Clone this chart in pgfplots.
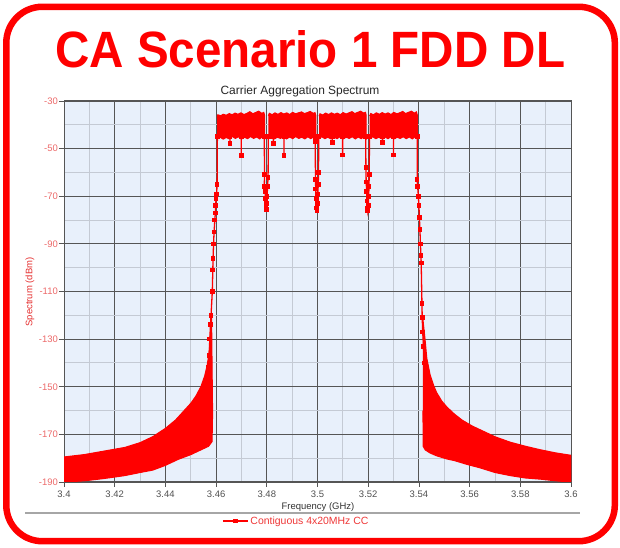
\documentclass[border=0pt]{standalone}
\usepackage{fontspec}
\setmainfont{Liberation Sans}
\usepackage{graphicx}
\usepackage{pgfplots}
\pgfplotsset{compat=1.18}
\definecolor{bgblue}{RGB}{232,240,251}
\definecolor{majgrid}{RGB}{85,85,85}
\definecolor{mingrid}{RGB}{196,202,212}
\definecolor{ticklab}{RGB}{236,105,105}
\definecolor{ylab}{RGB}{228,45,45}
\definecolor{xlab}{RGB}{80,80,80}
\definecolor{legred}{RGB}{238,55,55}
\begin{document}
\begin{tikzpicture}[x=1bp,y=1bp]
\path (0,0) rectangle (620,548);
\draw[red, line width=6.5bp, rounded corners=36bp] (6.3,6.8) rectangle (614.8,541.2);
\node[anchor=base west, inner sep=0pt, text=red] at (55,480) {\resizebox{510bp}{37bp}{\bfseries CA Scenario 1 FDD DL}};
\node[anchor=base, inner sep=0pt, text=black!85] at (300,453) {\fontsize{12}{14}\selectfont Carrier Aggregation Spectrum};
\begin{axis}[
  at={(64bp,66bp)}, anchor=south west,
  scale only axis, width=507bp, height=381bp,
  xmin=3.4, xmax=3.6, ymin=-190, ymax=-30,
  xtick={3.40,3.42,3.44,3.46,3.48,3.50,3.52,3.54,3.56,3.58,3.60},
  xticklabels={3.4,3.42,3.44,3.46,3.48,3.5,3.52,3.54,3.56,3.58,3.6},
  ytick={-190,-170,-150,-130,-110,-90,-70,-50,-30},
  yticklabels={-190,-170,-150,-130,-110,-90,-70,-50,-30},
  scaled ticks=false,
  minor x tick num=1, minor y tick num=1,
  grid=both,
  major grid style={majgrid, line width=0.9bp},
  minor grid style={mingrid, line width=0.9bp},
  tick align=outside, tick pos=left,
  major tick length=5bp, minor tick length=0pt,
  tick style={majgrid, line width=0.8bp},
  axis line style={majgrid, line width=1bp},
  axis background/.style={fill=bgblue},
  xticklabel style={font=\fontsize{9.5}{11}\selectfont, text=xlab},
  yticklabel style={font=\fontsize{9.5}{11}\selectfont, text=ticklab, inner xsep=1bp},
  unbounded coords=jump,
  legend style={at={(axis description cs:0.3116,-0.1024)}, anchor=west, draw=none, fill=none, inner sep=0pt,
    font=\fontsize{10.5}{12}\selectfont, text=legred, nodes={inner sep=2bp}},
  legend image code/.code={\draw[mark repeat=2,mark phase=2,#1] plot coordinates {(0bp,0bp) (12.5bp,0bp) (25bp,0bp)};},
]
% left skirt (dense oscillation drawn as filled band)
\addplot[draw=red, fill=red, line width=1.1bp, forget plot] coordinates {
(3.4000,-179.5)(3.4080,-178.5)(3.4160,-177)(3.4240,-175.5)(3.4300,-173.5)(3.4350,-171)
(3.4400,-167.5)(3.4440,-164)(3.4470,-160.5)(3.4500,-157)(3.4520,-154)(3.4540,-150)
(3.4555,-145.5)(3.4565,-141)(3.4572,-136)(3.4577,-130)(3.4582,-121)
(3.4586,-161)(3.4584,-173)(3.4570,-175)(3.4540,-176.5)(3.4500,-178.5)(3.4450,-180.5)
(3.4400,-183)(3.4350,-185)(3.4300,-186)(3.4240,-187.3)(3.4160,-188.5)(3.4080,-189.5)(3.4000,-190)
};
% right skirt
\addplot[draw=red, fill=red, line width=1.1bp, forget plot] coordinates {
(3.5415,-121)(3.5424,-130)(3.5431,-138)(3.5444,-145)(3.5458,-149.5)(3.5470,-152.5)
(3.5490,-156)(3.5510,-158.5)(3.5540,-161.5)(3.5570,-164)(3.5610,-166.5)(3.5650,-168.5)
(3.5700,-171)(3.5760,-173.3)(3.5820,-175)(3.5880,-176.5)(3.5940,-177.8)(3.6000,-178.8)
(3.6000,-190)(3.5940,-189.5)(3.5880,-188.8)(3.5820,-188.3)(3.5760,-187.3)(3.5700,-186)
(3.5640,-184)(3.5590,-182.6)(3.5540,-181)(3.5510,-180.3)(3.5470,-179)(3.5444,-177.8)
(3.5425,-176.5)(3.5417,-175)(3.5416,-160)
};
% carrier 1
\addplot[draw=red, fill=red, line width=1.1bp, forget plot] coordinates {
(3.4604,-37.0)(3.4607,-35.8)(3.4618,-36.2)(3.4628,-35.6)(3.4640,-36.0)(3.4652,-35.3)(3.4663,-35.8)
(3.4675,-35.1)(3.4686,-35.6)(3.4698,-35.0)(3.4710,-35.7)(3.4722,-35.2)(3.4733,-34.5)(3.4745,-35.4)
(3.4757,-34.8)(3.4768,-34.3)(3.4780,-35.2)(3.4788,-34.8)(3.4791,-36.0)
(3.4791,-45.8)(3.4782,-45.0)(3.4772,-45.9)(3.4760,-45.1)(3.4748,-45.7)(3.4736,-44.9)(3.4724,-45.8)
(3.4712,-45.2)(3.4700,-46.0)(3.4688,-45.0)(3.4676,-45.7)(3.4664,-44.9)(3.4652,-45.9)(3.4640,-45.3)
(3.4628,-46.0)(3.4616,-45.2)(3.4604,-45.8)
};
% carrier 2
\addplot[draw=red, fill=red, line width=1.1bp, forget plot] coordinates {
(3.4806,-36.2)(3.4810,-35.2)(3.4821,-35.8)(3.4832,-35.0)(3.4844,-35.6)(3.4856,-34.9)(3.4867,-35.5)
(3.4879,-35.0)(3.4890,-35.7)(3.4902,-34.8)(3.4914,-35.4)(3.4925,-35.0)(3.4937,-34.6)(3.4948,-35.3)
(3.4960,-34.9)(3.4971,-34.4)(3.4983,-35.2)(3.4990,-34.9)(3.4993,-36.0)
(3.4993,-46.0)(3.4984,-45.1)(3.4973,-45.8)(3.4962,-45.0)(3.4950,-45.9)(3.4938,-45.2)(3.4926,-45.7)
(3.4914,-44.9)(3.4902,-45.8)(3.4890,-45.1)(3.4878,-45.9)(3.4866,-45.0)(3.4854,-45.7)(3.4842,-45.2)
(3.4830,-45.9)(3.4818,-45.0)(3.4806,-45.6)
};
% carrier 3
\addplot[draw=red, fill=red, line width=1.1bp, forget plot] coordinates {
(3.5006,-36.4)(3.5010,-35.4)(3.5021,-35.9)(3.5032,-35.1)(3.5044,-35.7)(3.5055,-35.0)(3.5067,-35.6)
(3.5078,-35.1)(3.5090,-35.8)(3.5101,-34.9)(3.5113,-35.5)(3.5124,-35.0)(3.5136,-34.5)(3.5147,-35.3)
(3.5159,-34.8)(3.5170,-34.3)(3.5182,-35.1)(3.5189,-34.8)(3.5192,-36.0)
(3.5192,-45.9)(3.5183,-45.0)(3.5172,-45.8)(3.5161,-45.1)(3.5149,-45.9)(3.5137,-45.0)(3.5125,-45.7)
(3.5113,-45.2)(3.5101,-45.9)(3.5089,-45.0)(3.5077,-45.8)(3.5065,-45.1)(3.5053,-45.9)(3.5041,-45.2)
(3.5029,-45.8)(3.5017,-45.0)(3.5006,-45.7)
};
% carrier 4
\addplot[draw=red, fill=red, line width=1.1bp, forget plot] coordinates {
(3.5206,-36.3)(3.5210,-35.3)(3.5221,-35.8)(3.5232,-35.0)(3.5244,-35.6)(3.5255,-34.9)(3.5267,-35.5)
(3.5278,-35.0)(3.5290,-35.7)(3.5301,-34.8)(3.5313,-35.4)(3.5324,-35.0)(3.5336,-34.4)(3.5347,-35.3)
(3.5359,-34.8)(3.5370,-34.3)(3.5382,-35.1)(3.5390,-34.6)(3.5394,-36.0)
(3.5394,-45.8)(3.5385,-45.0)(3.5374,-45.9)(3.5362,-45.1)(3.5350,-45.8)(3.5338,-45.0)(3.5326,-45.7)
(3.5314,-45.2)(3.5302,-45.9)(3.5290,-45.0)(3.5278,-45.8)(3.5266,-45.1)(3.5254,-45.9)(3.5242,-45.2)
(3.5230,-45.8)(3.5218,-45.0)(3.5206,-45.7)
};
% edges, inter-carrier dips and spurs (line with square markers)
\addplot[red, line width=1.3bp, mark=square*, mark size=1.7bp, mark options={solid}] coordinates {
(3.4566,-150)(3.4570,-142)(3.4573,-137)(3.4575,-130)(3.4578,-124)(3.4580,-120)(3.4585,-110)
(3.4587,-101)(3.4588,-96)(3.4590,-90)(3.4592,-85)(3.4595,-80)(3.4597,-77)(3.4598,-74)
(3.4600,-71)(3.4602,-69)(3.4604,-65)(3.4605,-45)
(nan,nan)
(3.4790,-45)(3.4791,-61)(3.4790,-66)(3.4793,-68)(3.4795,-71)(3.4797,-74)(3.4798,-75.5)
(3.4800,-73)(3.4801,-70)(3.4803,-66)(3.4805,-62)(3.4806,-45)
(nan,nan)
(3.4990,-45)(3.4991,-47)(3.4992,-63)(3.4993,-67)(3.4995,-71)(3.4997,-75)(3.4998,-76)
(3.5000,-73)(3.5001,-69)(3.5003,-65)(3.5004,-60)(3.5005,-45)
(nan,nan)
(3.5190,-45)(3.5191,-58)(3.5192,-64)(3.5194,-68)(3.5195,-72)(3.5197,-75)(3.5198,-76)
(3.5200,-74)(3.5202,-70)(3.5203,-66)(3.5204,-61)(3.5205,-45)
(nan,nan)
(3.5394,-45)(3.5393,-63)(3.5395,-66)(3.5398,-70)(3.5400,-74)(3.5402,-79)(3.5404,-84)
(3.5406,-90)(3.5408,-95)(3.5409,-98)(3.5412,-115)(3.5413,-121)(3.5415,-127)(3.5418,-133)
(3.5421,-140)(3.5424,-146)
(nan,nan)
(3.4655,-45)(3.4655,-47.8)
(nan,nan)
(3.4699,-45)(3.4699,-52.8)
(nan,nan)
(3.4826,-45)(3.4826,-47.9)
(nan,nan)
(3.4868,-45)(3.4868,-52.8)
(nan,nan)
(3.5058,-45)(3.5058,-47.5)
(nan,nan)
(3.5099,-45)(3.5099,-52.7)
(nan,nan)
(3.5257,-45)(3.5257,-47.5)
(nan,nan)
(3.5300,-45)(3.5300,-52.7)
};
\addlegendentry{Contiguous 4x20MHz CC}
\end{axis}
\node[rotate=90, text=ylab, inner sep=0pt] at (30,256) {\fontsize{9.5}{11}\selectfont Spectrum (dBm)};
\node[inner sep=0pt, text=black!80] at (318,41) {\fontsize{9.5}{11}\selectfont Frequency (GHz)};
\draw[black!35, line width=2bp] (25,35) -- (580,35);
\end{tikzpicture}
\end{document}
